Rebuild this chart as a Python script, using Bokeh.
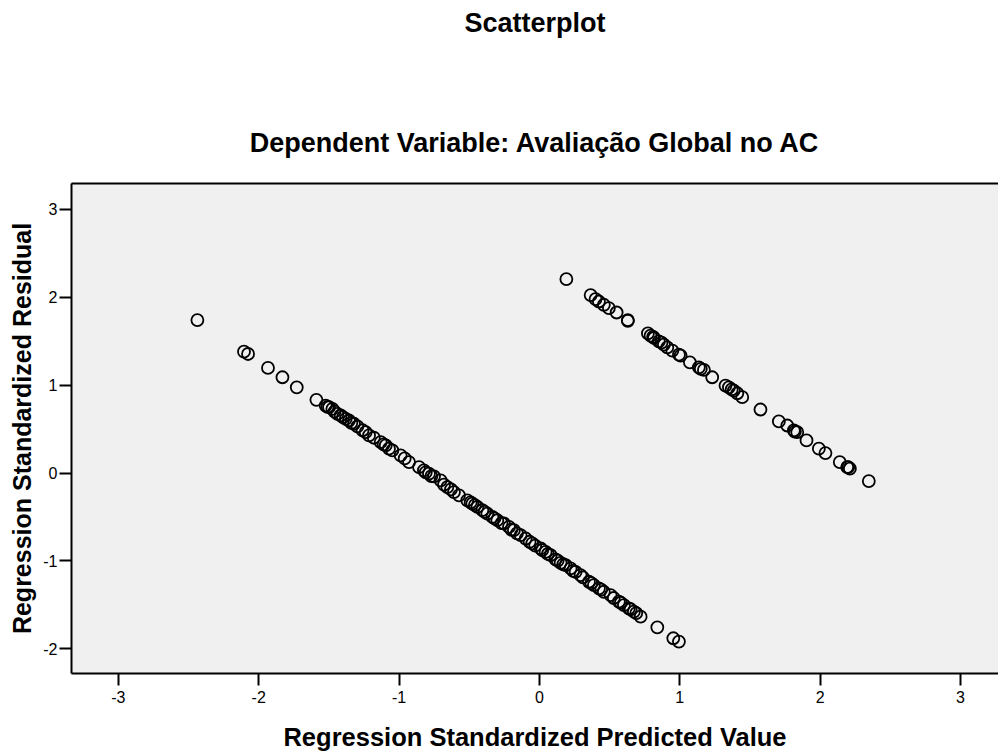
from bokeh.plotting import figure
from bokeh.models import Range1d, LinearAxis, FixedTicker, Title, ColumnDataSource
from bokeh.embed import file_html
from bokeh.resources import INLINE

# ---- data ----
low_x = [-2.437, -2.105, -2.076, -1.934, -1.831, -1.729, -1.589, -1.523, -1.499, -1.475,
         -1.439, -1.416, -1.380, -1.357, -1.321, -1.297, -1.238, -1.214, -1.131, -1.095,
         -1.072, -1.048, -0.989, -0.929, -0.858, -0.823, -0.787, -0.751, -0.704, -0.656,
         -0.609, -0.573, -0.514, -0.478, -0.442, -0.407, -0.371, -0.335, -0.300, -0.253,
         -0.217, -0.182, -0.134, -0.098, -0.051, 0.009, 0.044, 0.080, 0.115, 0.151,
         0.187, 0.222, 0.258, 0.293, 0.353, 0.388, 0.424, 0.459, 0.507, 0.566,
         0.602, 0.637, 0.673, 0.721, 0.840, 0.954, 0.994,
         -1.51, -1.46, -1.40, -1.34, -1.26, -1.18, -1.11, -0.96, -0.81, -0.77,
         -0.68, -0.63, -0.49, -0.46, -0.39, -0.32, -0.27, -0.20, -0.16, -0.07,
         -0.03, 0.02, 0.06, 0.13, 0.17, 0.24, 0.31, 0.37, 0.44, 0.53, 0.58, 0.65, 0.69]
low_y = [1.741, 1.381, 1.355, 1.196, 1.090, 0.976, 0.833, 0.768, 0.749, 0.731,
         0.674, 0.655, 0.617, 0.598, 0.561, 0.530, 0.465, 0.428, 0.352, 0.314,
         0.277, 0.258, 0.201, 0.125, 0.068, 0.031, -0.007, -0.037, -0.083, -0.159,
         -0.216, -0.253, -0.310, -0.347, -0.386, -0.423, -0.461, -0.499, -0.537, -0.574,
         -0.613, -0.650, -0.707, -0.745, -0.801, -0.858, -0.897, -0.934, -0.983, -1.022,
         -1.048, -1.085, -1.124, -1.161, -1.237, -1.275, -1.312, -1.351, -1.388, -1.464,
         -1.502, -1.539, -1.578, -1.634, -1.755, -1.880, -1.918,
         0.752, 0.700, 0.636, 0.572, 0.487, 0.402, 0.327, 0.167, 0.007, -0.036,
         -0.132, -0.185, -0.334, -0.366, -0.441, -0.515, -0.569, -0.644, -0.686, -0.782,
         -0.825, -0.878, -0.921, -0.996, -1.038, -1.113, -1.188, -1.252, -1.326, -1.422,
         -1.476, -1.550, -1.593]

high_x = [0.192, 0.365, 0.400, 0.424, 0.459, 0.495, 0.550, 0.630, 0.630, 0.773,
          0.792, 0.816, 0.851, 0.887, 0.911, 0.947, 0.994, 1.006, 1.072, 1.136,
          1.172, 1.231, 1.326, 1.350, 1.385, 1.410, 1.445, 1.575, 1.706, 1.766,
          1.813, 1.837, 1.903, 1.991, 2.038, 2.140, 2.193, 2.212, 2.347,
          0.81, 0.87, 1.15, 1.37, 1.82, 2.20]
high_y = [2.207, 2.025, 1.980, 1.952, 1.915, 1.877, 1.827, 1.733, 1.740, 1.589,
          1.563, 1.537, 1.498, 1.461, 1.430, 1.393, 1.347, 1.336, 1.260, 1.203,
          1.174, 1.090, 0.995, 0.976, 0.939, 0.908, 0.863, 0.723, 0.587, 0.541,
          0.485, 0.465, 0.371, 0.277, 0.227, 0.125, 0.068, 0.050, -0.091,
          1.549, 1.485, 1.186, 0.952, 0.472, 0.067]

x_ticks = [-3, -2, -1, 0, 1, 2, 3]
y_ticks = [-2, -1, 0, 1, 2, 3]

main_title = "Scatterplot"
sub_title = "Dependent Variable: Avaliação Global no AC"
x_label = "Regression Standardized Predicted Value"
y_label = "Regression Standardized Residual"

FONT = "Liberation Sans"

p = figure(width=998, height=753, output_backend="svg", toolbar_location=None,
           x_range=Range1d(-3.334, 3.271), y_range=Range1d(-2.281, 3.295),
           min_border=0, min_border_left=71, min_border_right=0,
           min_border_top=183, min_border_bottom=79)
p.title_location = None
p.background_fill_color = "#F0F0F0"
p.border_fill_color = "white"
p.outline_line_color = None
p.grid.visible = False

p.xaxis.ticker = FixedTicker(ticks=x_ticks)
p.yaxis.ticker = FixedTicker(ticks=y_ticks)
p.xaxis.major_label_overrides = {t: str(t) for t in x_ticks}
p.yaxis.major_label_overrides = {t: str(t) for t in y_ticks}
for ax in (p.xaxis[0], p.yaxis[0]):
    ax.axis_line_width = 2
    ax.axis_line_color = "black"
    ax.major_tick_line_width = 2
    ax.major_tick_line_color = "black"
    ax.major_tick_out = 12
    ax.major_tick_in = 0
    ax.minor_tick_out = 0
    ax.minor_tick_in = 0
    ax.major_label_text_font = FONT
    ax.major_label_text_font_size = "16px"
    ax.major_label_text_color = "black"
    ax.axis_label_text_font = FONT
    ax.axis_label_text_font_style = "bold"
    ax.axis_label_text_color = "black"

p.xaxis.axis_label = x_label
p.yaxis.axis_label = y_label
p.xaxis.axis_label_text_font_size = "25.5px"
p.yaxis.axis_label_text_font_size = "25px"
p.xaxis.major_label_standoff = 5
p.xaxis.axis_label_standoff = 17
p.yaxis.major_label_standoff = 2
p.yaxis.axis_label_standoff = 4

# top border of the plot frame
top_axis = LinearAxis(ticker=FixedTicker(ticks=[]), axis_line_width=2, axis_line_color="black",
                      major_tick_out=0, major_tick_in=0, minor_tick_out=0, minor_tick_in=0,
                      major_label_text_font_size="0px", major_label_standoff=0)
p.add_layout(top_axis, "above")

p.add_layout(Title(text=sub_title, align="center", text_font=FONT, text_font_style="bold",
                   text_font_size="27px", text_color="black", standoff=51), "above")

# empty spacer between the two titles
p.add_layout(Title(text=" ", align="center", text_font=FONT,
                   text_font_size="27px", text_color="white", standoff=26), "above")

p.add_layout(Title(text=main_title, align="center", text_font=FONT, text_font_style="bold",
                   text_font_size="27px", text_color="black", standoff=9), "above")

src_low = ColumnDataSource(dict(x=low_x, y=low_y))
src_high = ColumnDataSource(dict(x=high_x, y=high_y))
for s in (src_low, src_high):
    p.scatter("x", "y", source=s, marker="circle", size=12, fill_color=None,
              line_color="black", line_width=1.8)

open("out.html", "w").write(file_html(p, INLINE))
